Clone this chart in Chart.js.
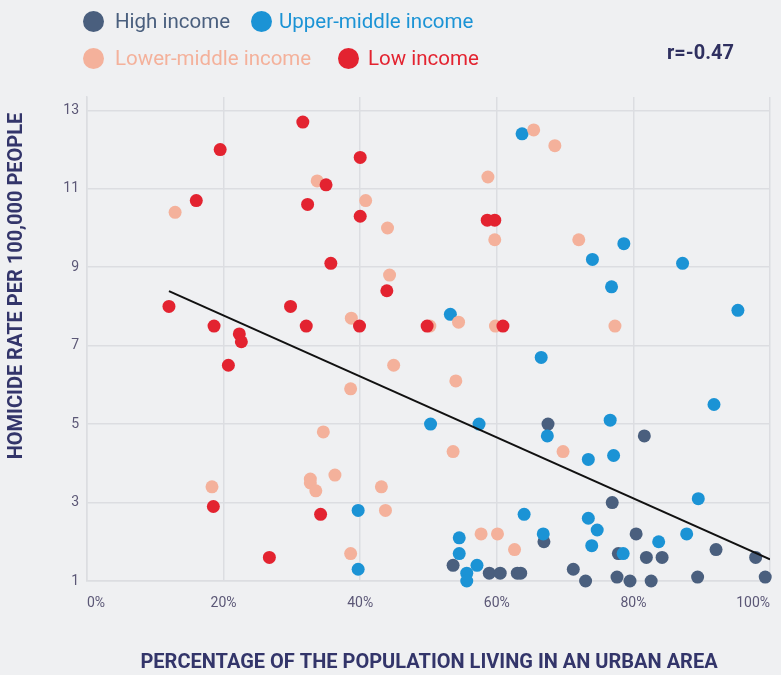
<!DOCTYPE html>
<html lang="en">
<head>
    <meta charset="UTF-8">
    <title>Homicide rate vs urban population</title>
    <script src="https://cdn.jsdelivr.net/npm/chart.js"></script>
    <style>
        body {
            margin: 0;
            background-color: #eff0f2;
            font-family: Roboto, Arial, sans-serif;
        }
        .wrap {
            position: relative;
            width: 781px;
            height: 675px;
        }
        .dot {
            position: absolute;
            width: 21px;
            height: 21px;
            border-radius: 50%;
        }
        .label {
            position: absolute;
            font-size: 20.5px;
            line-height: 24px;
            white-space: nowrap;
        }
        .corr {
            position: absolute;
            left: 667px;
            top: 40px;
            font-size: 20px;
            line-height: 24px;
            font-weight: bold;
            color: #2f3060;
        }
    </style>
</head>
<body>
<div class="wrap">
    <canvas id="scatterChart" width="781" height="675"></canvas>
    <span class="dot" style="left:83px;top:11px;background:#4a5f7e"></span>
    <span class="label" style="left:115px;top:9px;color:#4a5f7e">High income</span>
    <span class="dot" style="left:251px;top:11px;background:#1b93d5"></span>
    <span class="label" style="left:279px;top:9px;color:#1b93d5">Upper-middle income</span>
    <span class="dot" style="left:83px;top:48px;background:#f4b19b"></span>
    <span class="label" style="left:115px;top:46px;color:#f4b19b">Lower-middle income</span>
    <span class="dot" style="left:338px;top:48px;background:#e32330"></span>
    <span class="label" style="left:368px;top:46px;color:#e32330">Low income</span>
    <div class="corr">r=-0.47</div>
</div>

<script>
    // urban population share (%) and homicide rate per 100k
    const highX = [67.5, 81.6, 76.9, 66.9, 80.4, 92.1, 77.8, 81.9, 84.2, 97.9, 53.6, 58.9, 60.5, 63.0, 63.5, 71.2, 73.0, 77.6, 79.5, 82.6, 89.4, 99.3];
    const highY = [5.0, 4.7, 3.0, 2.0, 2.2, 1.8, 1.7, 1.6, 1.6, 1.6, 1.4, 1.2, 1.2, 1.2, 1.2, 1.3, 1.0, 1.1, 1.0, 1.0, 1.1, 1.1];

    const upperX = [63.7, 78.6, 74.0, 87.2, 76.8, 95.3, 53.2, 66.5, 91.8, 50.3, 57.4, 76.6, 67.4, 73.4, 77.1, 89.5, 39.7, 64.0, 73.4, 74.7, 54.5, 66.8, 87.8, 73.9, 83.7, 54.5, 78.5, 57.1, 55.6, 55.6, 39.7];
    const upperY = [12.4, 9.6, 9.2, 9.1, 8.5, 7.9, 7.8, 6.7, 5.5, 5.0, 5.0, 5.1, 4.7, 4.1, 4.2, 3.1, 2.8, 2.7, 2.6, 2.3, 2.1, 2.2, 2.2, 1.9, 2.0, 1.7, 1.7, 1.4, 1.2, 1.0, 1.3];

    const lowerX = [33.7, 40.8, 12.9, 44.0, 44.3, 38.7, 65.4, 68.5, 58.7, 59.7, 72.0, 54.4, 50.2, 59.8, 77.3, 44.9, 38.6, 54.0, 34.6, 36.3, 32.7, 32.7, 33.5, 18.3, 43.1, 43.7, 38.6, 53.6, 69.7, 57.7, 60.1, 62.6];
    const lowerY = [11.2, 10.7, 10.4, 10.0, 8.8, 7.7, 12.5, 12.1, 11.3, 9.7, 9.7, 7.6, 7.5, 7.5, 7.5, 6.5, 5.9, 6.1, 4.8, 3.7, 3.6, 3.5, 3.3, 3.4, 3.4, 2.8, 1.7, 4.3, 4.3, 2.2, 2.2, 1.8];

    const lowX = [31.6, 19.5, 40.0, 35.0, 16.0, 32.3, 40.0, 35.7, 43.9, 12.0, 29.8, 18.6, 32.1, 39.9, 22.3, 22.6, 58.6, 59.7, 49.8, 60.9, 20.7, 18.5, 34.2, 26.7];
    const lowY = [12.7, 12.0, 11.8, 11.1, 10.7, 10.6, 10.3, 9.1, 8.4, 8.0, 8.0, 7.5, 7.5, 7.5, 7.3, 7.1, 10.2, 10.2, 7.5, 7.5, 6.5, 2.9, 2.7, 1.6];

    const trendX = [12, 100];
    const trendY = [8.39, 1.55];

    const yTicks = [1, 3, 5, 7, 9, 11, 13];

    function toPoints(xs, ys) {
        return xs.map((x, i) => ({ x: x, y: ys[i] }));
    }

    function dots(label, xs, ys, color, order) {
        return {
            type: 'scatter',
            label: label,
            data: toPoints(xs, ys),
            backgroundColor: color,
            borderWidth: 0,
            pointRadius: 6.5,
            pointHoverRadius: 6.5,
            clip: false,
            order: order
        };
    }

    // axis titles drawn by hand so they sit where the original has them
    const axisTitles = {
        id: 'axisTitles',
        afterDraw(chart) {
            const ctx = chart.ctx;
            ctx.save();
            ctx.fillStyle = '#33356a';
            ctx.font = 'bold 20px Roboto';
            ctx.textAlign = 'center';
            ctx.textBaseline = 'middle';
            ctx.fillText('PERCENTAGE OF THE POPULATION LIVING IN AN URBAN AREA', 429, 663);
            ctx.translate(17, 286);
            ctx.rotate(-Math.PI / 2);
            ctx.fillText('HOMICIDE RATE PER 100,000 PEOPLE', 0, 0);
            ctx.restore();
        }
    };

    const gridColor = '#dcdde1';

    new Chart(document.getElementById('scatterChart'), {
        type: 'scatter',
        data: {
            datasets: [
                {
                    type: 'line',
                    label: 'Trend',
                    data: toPoints(trendX, trendY),
                    borderColor: '#111111',
                    borderWidth: 2,
                    pointRadius: 0,
                    fill: false,
                    order: 0
                },
                dots('Low income', lowX, lowY, '#e32330', 1),
                dots('Lower-middle income', lowerX, lowerY, '#f4b19b', 2),
                dots('Upper-middle income', upperX, upperY, '#1b93d5', 3),
                dots('High income', highX, highY, '#4a5f7e', 4)
            ]
        },
        options: {
            responsive: false,
            animation: false,
            devicePixelRatio: 1,
            layout: {
                padding: { top: 97, right: 11, left: 0, bottom: 0 }
            },
            scales: {
                x: {
                    type: 'linear',
                    min: 0,
                    max: 100,
                    afterFit: (scale) => {
                        scale.height = 94;
                        scale.paddingLeft = 0;
                        scale.paddingRight = 0;
                    },
                    ticks: {
                        stepSize: 20,
                        padding: 14,
                        align: 'inner',
                        color: '#5b5776',
                        font: { family: 'Roboto', size: 14 },
                        callback: (v) => v + '%'
                    },
                    grid: { color: gridColor, lineWidth: 1.5, drawTicks: false },
                    border: { color: gridColor, width: 1.5 }
                },
                y: {
                    type: 'linear',
                    min: 1,
                    max: 13.34,
                    afterFit: (scale) => { scale.width = 87; },
                    afterBuildTicks: (scale) => {
                        scale.ticks = yTicks.map(v => ({ value: v }));
                    },
                    ticks: {
                        padding: 8,
                        color: '#5b5776',
                        font: { family: 'Roboto', size: 14 }
                    },
                    grid: { color: gridColor, lineWidth: 1.5, drawTicks: false },
                    border: { color: gridColor, width: 1.5 }
                }
            },
            plugins: {
                legend: { display: false },
                tooltip: { enabled: false }
            }
        },
        plugins: [axisTitles]
    });
</script>
</body>
</html>
